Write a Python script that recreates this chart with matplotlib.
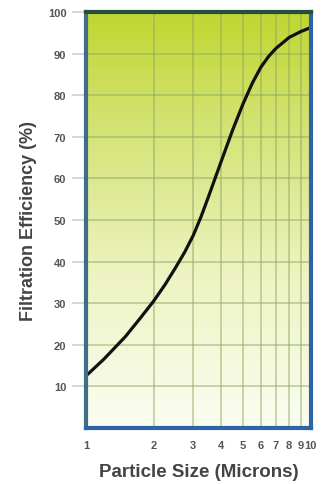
import numpy as np
import matplotlib
matplotlib.use("Agg")
import matplotlib.pyplot as plt
from matplotlib.colors import LinearSegmentedColormap

particle_size = [1.0, 1.2, 1.5, 1.75, 2.0, 2.25, 2.5, 2.75, 3.0, 3.25, 3.5, 3.75, 4.0, 4.5, 5.0, 5.5, 6.0, 6.5, 7.0, 8.0, 9.0, 10.0]
efficiency = [12.5, 16.5, 22.0, 26.5, 30.5, 34.5, 38.5, 42.3, 46.3, 50.8, 55.5, 60.0, 64.2, 71.8, 78.0, 83.0, 86.8, 89.4, 91.3, 93.9, 95.3, 96.3]
x_ticks = [1, 2, 3, 4, 5, 6, 7, 8, 9, 10]
y_ticks = [10, 20, 30, 40, 50, 60, 70, 80, 90, 100]

plt.rcParams['font.family'] = ['Liberation Sans', 'DejaVu Sans']

fig = plt.figure(figsize=(3.29, 4.85), dpi=100)
ax = fig.add_axes([0.261, 0.1155, 0.684, 0.8575])

cmap = LinearSegmentedColormap.from_list(
    "bg", [(0.0, "#fbfdf2"), (0.35, "#eef4c4"), (0.7, "#d5e47a"), (1.0, "#c0d631")])
grad = np.linspace(0, 1, 256).reshape(-1, 1)
ax.imshow(grad, cmap=cmap, aspect="auto", origin="lower",
          extent=[0, 1, 0, 1], transform=ax.transAxes, zorder=0)

ax.set_xscale("log")
ax.set_xlim(1, 10)
ax.set_ylim(0, 100)

for xv in x_ticks[1:-1]:
    ax.axvline(xv, color="#8aa860", lw=1.3, alpha=0.5, zorder=1)
for yv in y_ticks[:-1]:
    ax.axhline(yv, color="#8aa860", lw=1.3, alpha=0.5, zorder=1)

ax.plot(particle_size, efficiency, color="#111111", lw=2.3, zorder=3,
        solid_capstyle="round", solid_joinstyle="round")

ax.set_xticks(x_ticks)
ax.set_xticklabels([str(v) for v in x_ticks])
ax.xaxis.set_minor_locator(matplotlib.ticker.NullLocator())
ax.set_yticks(y_ticks)
ax.set_yticklabels([str(v) for v in y_ticks])

ax.tick_params(axis="x", length=0, pad=9, labelsize=8, labelcolor="#555555")
ax.tick_params(axis="y", length=10, width=1.2, color="#cfcfcf", pad=4,
               labelsize=8, labelcolor="#555555")
for lab in ax.get_xticklabels() + ax.get_yticklabels():
    lab.set_fontweight("bold")

ax.spines["left"].set_color("#3d6f8c")
ax.spines["top"].set_color("#244f3c")
ax.spines["right"].set_color("#2e64a6")
ax.spines["bottom"].set_color("#2e64a6")
for s in ax.spines.values():
    s.set_linewidth(3)
    s.set_zorder(4)

ax.set_xlabel("Particle Size (Microns)", fontsize=13.5, fontweight="bold",
              color="#444444", labelpad=9)
ax.set_ylabel("Filtration Efficiency (%)", fontsize=13, fontweight="bold",
              color="#444444", labelpad=8)

fig.savefig("out.png", dpi=100)
